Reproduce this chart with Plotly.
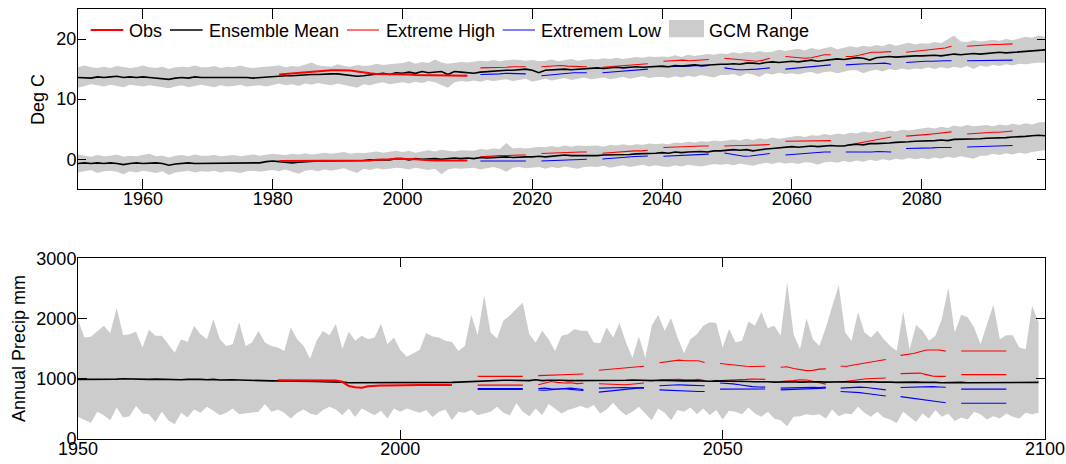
import plotly.graph_objects as go

# ---------------- data ----------------
years = list(range(1950, 2100))

tmax_mean = [
    13.6, 13.6, 13.5, 13.7, 13.6, 13.7, 13.8, 13.6, 13.7, 13.6,
    13.7, 13.6, 13.5, 13.4, 13.3, 13.5, 13.6, 13.5, 13.7, 13.6,
    13.6, 13.7, 13.6, 13.6, 13.7, 13.6, 13.6, 13.5, 13.6, 13.6,
    13.8, 13.9, 13.9, 13.9, 14.0, 14.0, 14.1, 14.1, 14.2, 14.2,
    14.2, 14.1, 14.0, 13.8, 13.9, 14.0, 14.2, 14.3, 14.1, 14.4,
    14.3, 14.5, 14.3, 14.6, 14.4, 14.5, 14.6, 14.1, 14.6, 14.5,
    14.4, 14.3, 14.5, 14.6, 14.6, 14.7, 14.8, 14.8, 14.9, 15.0,
    14.8, 14.4, 14.8, 14.9, 15.0, 15.0, 14.9, 15.0, 15.1, 15.1,
    15.2, 15.1, 15.2, 15.3, 15.2, 15.3, 15.4, 15.3, 15.4, 15.5,
    15.5, 15.4, 15.6, 15.5, 15.6, 15.7, 15.6, 15.7, 15.7, 15.8,
    15.8, 15.9, 15.8, 16.0, 16.0, 15.9, 16.1, 16.2, 16.1, 16.2,
    16.3, 16.2, 16.4, 16.5, 16.3, 16.4, 16.6, 16.7, 16.6, 16.7,
    16.9, 16.8, 16.5, 16.9, 17.0, 17.1, 17.0, 17.1, 17.2, 17.2,
    17.2, 17.3, 17.3, 17.2, 17.4, 17.5, 17.4, 17.5, 17.6, 17.5,
    17.6, 17.7, 17.8, 17.7, 17.8, 17.9, 18.0, 18.1, 18.2, 18.2,
]
tmax_hi = [
    15.3, 15.6, 15.3, 15.2, 15.4, 15.2, 15.5, 15.3, 15.2, 15.3,
    15.6, 15.3, 15.2, 15.4, 15.0, 15.3, 15.4, 15.3, 15.6, 15.3,
    15.3, 15.5, 15.2, 15.4, 15.3, 15.6, 15.3, 15.2, 15.3, 15.4,
    15.4, 15.6, 15.3, 15.5, 15.4, 15.7, 16.1, 15.6, 15.5, 15.4,
    15.8, 15.5, 15.4, 15.7, 15.5, 15.6, 15.9, 15.7, 15.8, 15.9,
    16.0, 16.3, 15.9, 16.2, 16.0, 16.6, 16.1, 15.9, 16.0, 16.2,
    16.1, 16.2, 16.4, 16.3, 16.5, 16.3, 16.4, 16.6, 16.5, 16.4,
    16.5, 16.3, 16.4, 16.6, 16.3, 16.5, 16.7, 16.4, 16.6, 16.7,
    16.6, 16.8, 16.7, 16.9, 16.7, 16.8, 17.0, 16.9, 17.1, 17.0,
    17.1, 17.0, 17.3, 17.0, 17.4, 17.2, 17.3, 17.5, 17.4, 17.6,
    17.5, 17.8, 17.6, 17.9, 17.7, 18.0, 17.8, 17.9, 18.2, 18.0,
    18.2, 18.4, 18.1, 18.5, 18.2, 18.4, 18.7, 18.3, 18.6, 18.8,
    18.6, 18.9, 18.7, 19.0, 18.8, 19.2, 18.9, 19.1, 19.4, 19.1,
    19.3, 19.2, 19.5, 19.3, 19.9, 20.6, 19.6, 19.5, 19.8, 19.6,
    19.7, 19.9, 19.7, 20.0, 19.8, 20.1, 20.4, 20.2, 20.6, 20.4,
]
tmax_lo = [
    11.9, 12.2, 12.5, 12.3, 12.1, 12.4, 12.2, 12.0, 12.4, 12.2,
    12.1, 12.3, 12.1, 11.9, 11.8, 12.1, 12.3, 12.0, 12.2, 12.4,
    12.2, 12.0, 12.3, 12.1, 12.2, 12.4, 12.1, 12.2, 12.3, 12.1,
    12.4, 12.6, 12.3, 12.5, 12.2, 12.6, 12.4, 12.7, 12.5, 12.3,
    12.6, 12.4, 12.2, 11.9, 12.5, 12.3, 12.6, 12.8, 12.5, 12.7,
    12.8, 12.6, 12.9, 12.7, 13.0, 12.8, 12.4, 11.9, 12.8, 13.0,
    12.9, 13.1, 12.9, 13.2, 13.0, 13.1, 13.3, 13.0, 13.2, 13.4,
    12.9, 13.2, 13.4, 13.1, 13.3, 13.5, 13.2, 13.4, 13.6, 13.3,
    13.5, 13.6, 13.3, 13.5, 13.7, 13.4, 13.6, 13.8, 13.5, 13.7,
    13.7, 13.5, 13.8, 13.6, 13.9, 13.7, 14.0, 13.8, 13.6, 14.0,
    14.0, 14.2, 13.8, 14.3, 14.1, 13.7, 14.3, 14.1, 14.4, 14.2,
    14.3, 14.1, 14.4, 14.5, 14.2, 14.5, 14.6, 14.3, 14.6, 14.8,
    14.8, 14.3, 14.7, 14.9, 14.6, 15.0, 14.8, 15.1, 14.9, 15.1,
    15.0, 15.3, 15.0, 15.3, 15.1, 15.4, 15.2, 15.5, 15.0, 15.6,
    15.4, 15.7, 15.5, 15.8, 15.6, 15.9, 15.8, 16.0, 16.1, 16.0,
]

tmin_mean = [
    -0.7, -0.6, -0.7, -0.6, -0.7, -0.6, -0.7, -0.9, -0.7, -0.6,
    -0.7, -0.6, -0.6, -0.7, -1.0, -0.8, -0.7, -0.6, -0.7, -0.7,
    -0.6, -0.7, -0.7, -0.6, -0.7, -0.6, -0.7, -0.7, -0.6, -0.4,
    -0.3, -0.4, -0.5, -0.6, -0.5, -0.4, -0.4, -0.3, -0.3, -0.3,
    -0.3, -0.3, -0.2, -0.3, -0.2, -0.1, -0.1, 0.0, -0.1, 0.1,
    0.1, -0.1, 0.1, 0.0, 0.1, 0.1, 0.0, 0.1, 0.2, 0.1,
    0.2, 0.1, 0.3, 0.2, 0.3, 0.3, 0.4, 0.3, 0.4, 0.4,
    0.4, 0.5, 0.4, 0.5, 0.6, 0.7, 0.6, 0.6, 0.5, 0.6,
    0.6, 0.7, 0.7, 0.8, 0.7, 0.8, 0.9, 0.9, 1.0, 1.0,
    1.1, 1.0, 1.2, 1.1, 1.2, 1.3, 1.3, 1.2, 1.4, 1.4,
    1.5, 1.6, 1.5, 1.6, 1.4, 1.6, 1.7, 1.8, 1.9, 2.0,
    2.1, 2.0, 2.1, 2.2, 2.1, 2.2, 2.3, 2.2, 2.2, 2.4,
    2.5, 2.4, 2.6, 2.6, 2.6, 2.7, 2.8, 2.8, 2.9, 3.0,
    3.0, 3.1, 3.1, 3.2, 3.1, 3.3, 3.3, 3.4, 3.3, 3.4,
    3.5, 3.5, 3.6, 3.6, 3.7, 3.7, 3.8, 3.9, 4.0, 3.9,
]
tmin_hi = [
    0.8, 0.6, 0.4, 0.7, 0.5, 0.6, 0.8, 0.4, 0.6, 0.5,
    0.7, 0.9, 0.5, 0.6, 0.3, 0.6, 0.7, 0.5, 0.8, 0.6,
    0.6, 0.7, 0.5, 0.6, 0.7, 0.5, 0.6, 0.8, 0.6, 0.7,
    0.9, 0.8, 0.7, 0.9, 0.8, 1.0, 0.8, 0.9, 1.1, 0.9,
    1.0, 1.2, 0.9, 1.1, 1.0, 1.2, 1.3, 1.1, 1.2, 1.4,
    1.2, 1.4, 1.1, 1.3, 1.5, 1.3, 1.6, 1.4, 1.3, 1.5,
    1.5, 1.4, 1.7, 1.6, 1.8, 1.7, 2.7, 1.8, 1.9, 1.8,
    1.9, 2.1, 2.0, 2.2, 2.0, 2.3, 2.1, 2.3, 2.2, 2.2,
    2.3, 2.1, 2.4, 2.3, 2.5, 2.3, 2.5, 2.4, 2.6, 2.5,
    2.6, 2.5, 2.8, 2.7, 2.9, 2.8, 3.0, 2.9, 3.1, 3.0,
    3.1, 3.3, 3.1, 3.4, 3.2, 3.5, 3.3, 3.6, 3.4, 3.6,
    3.7, 3.9, 3.7, 4.0, 3.9, 4.2, 4.0, 4.3, 4.1, 4.4,
    4.3, 4.6, 4.4, 4.7, 4.5, 4.8, 4.6, 4.9, 4.8, 5.0,
    5.1, 5.3, 5.1, 5.4, 5.2, 5.6, 5.4, 5.7, 5.5, 5.6,
    5.7, 5.5, 5.8, 5.6, 5.9, 5.7, 6.0, 5.8, 6.1, 6.2,
]
tmin_lo = [
    -2.2, -2.0, -1.8, -2.3, -2.0, -1.9, -2.1, -2.5, -2.0, -2.2,
    -1.9, -2.1, -2.3, -2.0, -2.6, -2.2, -2.0, -1.9, -2.2, -2.0,
    -2.1, -1.9, -2.2, -2.0, -2.1, -2.3, -2.0, -1.9, -2.1, -2.0,
    -1.8, -2.0, -1.7, -2.1, -2.4, -1.9, -1.8, -2.0, -1.7, -1.9,
    -1.7, -1.5, -1.9, -2.3, -1.6, -1.8, -1.5, -1.7, -1.6, -1.4,
    -1.5, -1.7, -1.4, -1.6, -1.8, -1.6, -2.5, -1.7, -1.5, -1.6,
    -1.5, -1.4, -1.7, -1.5, -1.3, -1.6, -2.1, -1.4, -1.3, -1.5,
    -1.4, -1.3, -1.6, -1.3, -1.5, -1.2, -1.4, -1.6, -1.3, -1.2,
    -1.3, -1.1, -1.4, -1.2, -1.0, -1.3, -1.1, -0.9, -1.2, -1.0,
    -1.2, -1.3, -1.0, -1.2, -0.9, -1.1, -1.2, -1.0, -0.8, -0.9,
    -0.8, -1.0, -0.7, -0.9, -1.1, -0.8, -0.6, -0.8, -0.5, -0.7,
    -0.6, -0.8, -0.5, -0.6, -0.9, -0.5, -0.4, -0.6, -0.3, -0.5,
    -0.2, -0.4, -0.1, -0.3, 0.0, -0.2, 0.1, -0.1, 0.2, 0.0,
    0.2, 0.0, 0.3, 0.1, 0.4, 0.2, 0.5, 0.3, 0.1, 0.6,
    0.6, 0.9, 0.7, 1.0, 0.8, 1.1, 0.9, 1.2, 1.4, 1.5,
]

obs_t_years = list(range(1981, 2011))
obs_tmax = [14.1, 14.2, 14.2, 14.3, 14.5, 14.6, 14.7, 14.75, 14.8, 14.8,
            14.8, 14.75, 14.6, 14.4, 14.3, 14.2, 14.2, 14.2, 14.1, 14.1,
            14.1, 14.0, 14.0, 14.0, 14.0, 13.9, 13.9, 13.9, 13.9, 13.9]
obs_tmin = [-0.3, -0.3, -0.3, -0.3, -0.3, -0.3, -0.3, -0.3, -0.3, -0.3,
            -0.3, -0.3, -0.3, -0.2, -0.2, -0.1, -0.1, 0.0, 0.1, 0.1,
            0.1, 0.0, -0.1, -0.2, -0.2, -0.2, -0.2, -0.2, -0.2, -0.2]

seg_starts = [2012, 2021.4, 2030.8, 2040.2, 2049.6, 2059, 2068.3, 2077.6, 2087]

tmax_ext_high = [
    [15.2, 15.2, 15.3, 15.3, 15.3, 15.4, 15.4, 15.4],
    [15.4, 15.5, 15.6, 15.6, 15.5, 15.5, 15.5, 15.4],
    [15.3, 15.4, 15.4, 15.5, 15.6, 15.7, 15.8, 15.9],
    [16.3, 16.4, 16.5, 16.5, 16.4, 16.5, 16.6, 16.6],
    [16.8, 16.7, 16.5, 16.4, 16.3, 16.3, 16.5, 16.8],
    [17.1, 17.0, 16.9, 16.8, 16.9, 17.1, 17.4, 17.4],
    [17.1, 17.1, 17.3, 17.6, 17.8, 17.8, 17.9, 17.9],
    [17.8, 17.9, 18.0, 18.2, 18.2, 18.4, 18.5, 18.8],
    [18.8, 18.9, 19.0, 19.0, 19.1, 19.1, 19.2, 19.2],
]
tmax_ext_low = [
    [14.1, 14.1, 14.1, 14.2, 14.3, 14.3, 14.2, 14.2],
    [13.9, 14.0, 14.1, 14.3, 14.4, 14.4, 14.4, 14.4],
    [14.4, 14.5, 14.6, 14.7, 14.8, 14.9, 15.0, 15.0],
    [15.4, 15.4, 15.5, 15.4, 15.5, 15.6, 15.5, 15.6],
    [15.2, 15.0, 14.9, 14.9, 14.9, 15.0, 15.1, 15.2],
    [15.0, 15.1, 15.2, 15.3, 15.4, 15.5, 15.6, 15.7],
    [15.7, 15.8, 15.8, 15.9, 15.9, 16.0, 16.0, 15.8],
    [16.1, 16.2, 16.3, 16.3, 16.3, 16.4, 16.4, 16.4],
    [16.4, 16.4, 16.4, 16.4, 16.4, 16.4, 16.4, 16.5],
]
tmin_ext_high = [
    [0.4, 0.5, 0.5, 0.6, 0.6, 0.7, 0.7, 0.7],
    [0.95, 1.0, 1.1, 1.1, 1.1, 1.2, 1.2, 1.2],
    [1.0, 1.1, 1.2, 1.2, 1.3, 1.4, 1.4, 1.5],
    [1.95, 2.0, 2.1, 2.1, 2.2, 2.2, 2.2, 2.2],
    [2.2, 2.3, 2.3, 2.3, 2.3, 2.4, 2.4, 2.45],
    [3.0, 3.0, 3.1, 3.1, 3.0, 3.0, 3.1, 3.1],
    [2.3, 2.5, 2.7, 2.9, 3.2, 3.4, 3.6, 3.7],
    [3.85, 3.9, 4.0, 4.1, 4.2, 4.3, 4.4, 4.55],
    [4.2, 4.3, 4.4, 4.4, 4.5, 4.5, 4.6, 4.7],
]
tmin_ext_low = [
    [-0.3, -0.3, -0.35, -0.3, -0.25, -0.3, -0.3, -0.3],
    [-0.3, -0.25, -0.2, -0.1, -0.1, 0.0, 0.0, 0.0],
    [0.05, 0.15, 0.25, 0.3, 0.4, 0.45, 0.5, 0.55],
    [0.5, 0.55, 0.6, 0.65, 0.7, 0.7, 0.8, 0.85],
    [1.05, 0.9, 0.7, 0.5, 0.55, 0.7, 0.85, 0.95],
    [0.7, 0.8, 0.9, 1.0, 1.1, 1.1, 1.2, 1.2],
    [1.2, 1.2, 1.1, 1.2, 1.2, 1.3, 1.2, 1.2],
    [1.8, 1.8, 1.85, 1.9, 1.9, 1.95, 1.95, 1.95],
    [2.05, 2.1, 2.1, 2.15, 2.2, 2.25, 2.3, 2.3],
]

precip_mean = [
    990, 990, 985, 990, 990, 990, 995, 1000, 995, 990,
    985, 990, 995, 990, 985, 990, 985, 990, 995, 990,
    985, 990, 980, 985, 985, 980, 975, 975, 975, 970,
    965, 965, 965, 965, 960, 960, 960, 955, 950, 950,
    945, 945, 935, 935, 930, 930, 935, 935, 930, 930,
    930, 930, 930, 930, 930, 930, 935, 935, 940, 945,
    950, 960, 965, 970, 975, 975, 975, 975, 975, 975,
    970, 985, 970, 975, 980, 975, 970, 970, 975, 975,
    970, 975, 970, 965, 970, 975, 980, 975, 970, 970,
    975, 970, 965, 960, 965, 970, 965, 960, 960, 965,
    965, 960, 955, 960, 955, 950, 955, 950, 945, 950,
    955, 950, 945, 950, 955, 950, 945, 950, 945, 950,
    945, 950, 955, 950, 945, 950, 945, 940, 945, 950,
    945, 940, 945, 940, 935, 940, 945, 940, 935, 935,
    940, 935, 935, 940, 935, 935, 940, 935, 935, 940,
]
precip_hi = [
    1980, 1687, 1700, 1795, 1880, 1760, 2175, 1725, 1740, 1780,
    1518, 1815, 1714, 1714, 1574, 1434, 1658, 1613, 1880, 1740,
    1658, 1995, 1658, 1546, 1574, 1940, 1546, 1602, 1795, 1602,
    1546, 1518, 1462, 1851, 1658, 1546, 1335, 1630, 1795, 1725,
    1912, 1500, 1780, 1630, 1714, 1658, 1687, 1912, 1574, 1687,
    1479, 1367, 1423, 1479, 1760, 1703, 1687, 1630, 1613, 1462,
    1546, 2062, 1725, 2387, 1770, 1669, 1967, 2051, 2163, 2264,
    1742, 1602, 1798, 1658, 1462, 1714, 1742, 1826, 1798, 1798,
    1602, 1591, 1854, 1687, 1928, 1602, 1350, 1703, 1350, 1882,
    2062, 1798, 2006, 1687, 1423, 1658, 1742, 1882, 1938, 1928,
    1518, 1826, 1602, 1630, 1950, 1883, 2108, 1838, 1883, 1714,
    2601, 1742, 1490, 2006, 1658, 1546, 1854, 2219, 2556, 1770,
    1630, 2108, 1770, 1686, 1798, 1658, 1546, 1462, 2118, 1490,
    1894, 1798, 1630, 1714, 1995, 2511, 1770, 2062, 2023, 1854,
    1574, 1910, 2230, 1658, 1725, 1725, 1518, 1490, 2208, 1939,
]
precip_lo = [
    367, 311, 268, 452, 396, 311, 525, 356, 378, 547,
    424, 412, 283, 452, 311, 244, 435, 356, 491, 435,
    536, 469, 396, 435, 508, 412, 424, 435, 452, 581,
    452, 491, 435, 340, 435, 491, 424, 396, 480, 536,
    491, 396, 508, 367, 508, 452, 396, 469, 340, 508,
    452, 508, 469, 435, 480, 367, 452, 491, 311, 452,
    435, 480, 396, 424, 452, 536, 435, 396, 592, 452,
    378, 508, 396, 581, 508, 424, 480, 519, 547, 508,
    564, 424, 491, 603, 480, 396, 452, 536, 424, 311,
    508, 435, 311, 480, 452, 525, 412, 508, 396, 480,
    323, 469, 452, 413, 525, 424, 368, 452, 340, 312,
    211, 368, 379, 413, 396, 413, 340, 491, 379, 424,
    413, 536, 435, 368, 452, 357, 323, 267, 452, 368,
    284, 424, 340, 480, 368, 424, 301, 357, 323, 452,
    413, 323, 379, 340, 424, 368, 340, 435, 413, 435,
]

obs_p_years = list(range(1981, 2009))
obs_precip = [975, 975, 975, 975, 975, 975, 975, 975, 975, 972,
              950, 880, 858, 850, 875, 885, 888, 890, 893, 895,
              895, 895, 895, 895, 895, 895, 895, 895]

precip_ext_high1 = [
    [1040, 1040, 1040, 1040, 1040, 1040, 1040, 1040],
    [1052, 1055, 1060, 1065, 1070, 1075, 1078, 1080],
    [1141, 1150, 1160, 1170, 1180, 1190, 1200, 1209],
    [1266, 1280, 1290, 1310, 1300, 1295, 1300, 1270],
    [1254, 1240, 1230, 1215, 1209, 1205, 1209, 1209],
    [1192, 1200, 1170, 1150, 1136, 1140, 1160, 1165],
    [1209, 1209, 1230, 1250, 1270, 1290, 1310, 1321],
    [1389, 1400, 1420, 1450, 1478, 1478, 1478, 1460],
    [1461, 1461, 1461, 1461, 1461, 1461, 1461, 1461],
]
precip_ext_high2 = [
    [895, 895, 895, 895, 895, 895, 895, 895],
    [900, 930, 956, 940, 930, 935, 920, 925],
    [918, 915, 910, 905, 900, 910, 920, 929],
    [985, 990, 997, 990, 985, 980, 990, 973],
    [973, 975, 980, 985, 990, 997, 995, 990],
    [956, 960, 970, 985, 980, 960, 930, 912],
    [946, 960, 975, 990, 1000, 1005, 1010, 1013],
    [1086, 1090, 1097, 1095, 1070, 1045, 1040, 1040],
    [1069, 1069, 1069, 1069, 1069, 1069, 1069, 1069],
]
precip_ext_low1 = [
    [840, 840, 840, 840, 840, 840, 840, 840],
    [840, 845, 835, 830, 840, 845, 835, 820],
    [845, 850, 855, 860, 855, 850, 855, 855],
    [884, 890, 895, 900, 895, 890, 885, 884],
    [929, 925, 915, 900, 880, 870, 865, 862],
    [845, 850, 855, 860, 862, 858, 855, 862],
    [845, 850, 858, 862, 855, 840, 825, 816],
    [855, 860, 865, 870, 872, 870, 865, 860],
    [828, 828, 828, 828, 828, 828, 828, 828],
]
precip_ext_low2 = [
    [825, 825, 825, 825, 825, 825, 825, 825],
    [815, 810, 820, 830, 835, 825, 815, 805],
    [778, 790, 805, 820, 830, 840, 845, 845],
    [816, 810, 805, 800, 795, 790, 790, 788],
    [828, 830, 830, 828, 830, 830, 828, 830],
    [816, 820, 828, 835, 840, 845, 845, 845],
    [788, 785, 780, 770, 755, 740, 725, 715],
    [704, 690, 675, 660, 650, 635, 615, 603],
    [593, 593, 593, 593, 593, 593, 593, 593],
]

top_xticks = [1960, 1980, 2000, 2020, 2040, 2060, 2080]
top_yticks = [0, 10, 20]
bot_xticks = [1950, 2000, 2050, 2100]
bot_yticks = [0, 1000, 2000, 3000]

legend_labels = ["Obs", "Ensemble Mean", "Extreme High", "Extremem Low", "GCM Range"]

# ---------------- styling ----------------
GREY = "#cccccc"
RED = "#ff0000"
BLUE = "#0000ff"
FONT = "Liberation Sans, Arial, sans-serif"
W, H = 1066, 464
ML, MR, MT, MB = 78, 21, 9, 25
PW, PH = W - ML - MR, H - MT - MB


def pxx(px):
    return (px - ML) / PW


def pxy(py):
    return (H - MB - py) / PH


fig = go.Figure()


def band(lo, hi, xa, ya):
    fig.add_trace(go.Scatter(x=years, y=lo, mode="lines", line=dict(width=0, color=GREY),
                             hoverinfo="skip", showlegend=False, xaxis=xa, yaxis=ya))
    fig.add_trace(go.Scatter(x=years, y=hi, mode="lines", line=dict(width=0, color=GREY),
                             fill="tonexty", fillcolor=GREY, hoverinfo="skip",
                             showlegend=False, xaxis=xa, yaxis=ya))


def segs(vals):
    xs, ys = [], []
    for s, v in zip(seg_starts, vals):
        xs += [s + i for i in range(len(v))] + [None]
        ys += list(v) + [None]
    return xs, ys


def line(x, y, color, width, xa, ya):
    fig.add_trace(go.Scatter(x=x, y=y, mode="lines", line=dict(color=color, width=width),
                             showlegend=False, xaxis=xa, yaxis=ya, connectgaps=False))


# top panel
band(tmax_lo, tmax_hi, "x", "y")
band(tmin_lo, tmin_hi, "x", "y")
for vals, col in [(tmax_ext_high, RED), (tmax_ext_low, BLUE), (tmin_ext_high, RED), (tmin_ext_low, BLUE)]:
    sx, sy = segs(vals)
    line(sx, sy, col, 1.1, "x", "y")
line(years, tmax_mean, "black", 1.6, "x", "y")
line(years, tmin_mean, "black", 1.6, "x", "y")
line(obs_t_years, obs_tmax, RED, 2, "x", "y")
line(obs_t_years, obs_tmin, RED, 2, "x", "y")

# bottom panel
band(precip_lo, precip_hi, "x2", "y2")
for vals, col in [(precip_ext_high1, RED), (precip_ext_high2, RED),
                  (precip_ext_low1, BLUE), (precip_ext_low2, BLUE)]:
    sx, sy = segs(vals)
    line(sx, sy, col, 1.1, "x2", "y2")
line(years, precip_mean, "black", 1.6, "x2", "y2")
line(obs_p_years, obs_precip, RED, 2, "x2", "y2")

axis_common = dict(showline=True, linecolor="black", linewidth=1, mirror="ticks",
                   ticks="inside", tickcolor="black", tickwidth=1, showgrid=False,
                   zeroline=False, automargin=False,
                   tickfont=dict(family=FONT, size=18, color="black"))

top_dom = [pxy(189.3), 1.0]
bot_dom = [0.0, pxy(258.4)]

fig.update_layout(
    width=W, height=H,
    margin=dict(l=ML, r=MR, t=MT, b=MB, pad=0, autoexpand=False),
    paper_bgcolor="white", plot_bgcolor="white",
    showlegend=False,
    font=dict(family=FONT, size=18, color="black"),
    xaxis=dict(domain=[0, 1], range=[1950, 2099], tickvals=top_xticks, ticklen=10,
               ticklabelstandoff=-7, anchor="y", **axis_common),
    yaxis=dict(domain=top_dom, range=[-5, 25], tickvals=top_yticks, ticklen=8,
               ticklabelstandoff=-3, anchor="x", **axis_common),
    xaxis2=dict(domain=[0, 1], range=[1950, 2100], tickvals=bot_xticks, ticklen=9,
                ticklabelstandoff=-7, anchor="y2", **axis_common),
    yaxis2=dict(domain=bot_dom, range=[0, 3000], tickvals=bot_yticks, ticklen=9,
                ticklabelstandoff=-3, anchor="x2", **axis_common),
)

# axis titles
fig.add_annotation(text="Deg C", x=pxx(38), y=pxy(100), xref="paper", yref="paper",
                   textangle=-90, showarrow=False, xanchor="center", yanchor="middle",
                   font=dict(family=FONT, size=18, color="black"))
fig.add_annotation(text="Annual Precip mm", x=pxx(19), y=pxy(349), xref="paper", yref="paper",
                   textangle=-90, showarrow=False, xanchor="center", yanchor="middle",
                   font=dict(family=FONT, size=18, color="black"))

# manual legend (top panel)
LEG_Y = 30
leg_items = [
    ("line", RED, 2.0, 90.7, 123.3, 128),
    ("line", "black", 1.6, 170, 202.7, 207.5),
    ("line", RED, 1.1, 347, 379, 384.5),
    ("line", BLUE, 1.1, 502.7, 535, 540),
    ("rect", GREY, 0, 669, 704, 708),
]
for (kind, col, wdt, x0, x1, tx), label in zip(leg_items, legend_labels):
    if kind == "line":
        fig.add_shape(type="line", xref="paper", yref="paper",
                      x0=pxx(x0), x1=pxx(x1), y0=pxy(LEG_Y), y1=pxy(LEG_Y),
                      line=dict(color=col, width=wdt))
    else:
        fig.add_shape(type="rect", xref="paper", yref="paper",
                      x0=pxx(x0), x1=pxx(x1), y0=pxy(37.3), y1=pxy(20),
                      line=dict(width=0), fillcolor=col)
    fig.add_annotation(text=label, x=pxx(tx), y=pxy(LEG_Y + 0.5), xref="paper", yref="paper",
                       showarrow=False, xanchor="left", yanchor="middle", borderpad=0,
                       font=dict(family=FONT, size=18, color="black"))

fig.write_html("out.html")
